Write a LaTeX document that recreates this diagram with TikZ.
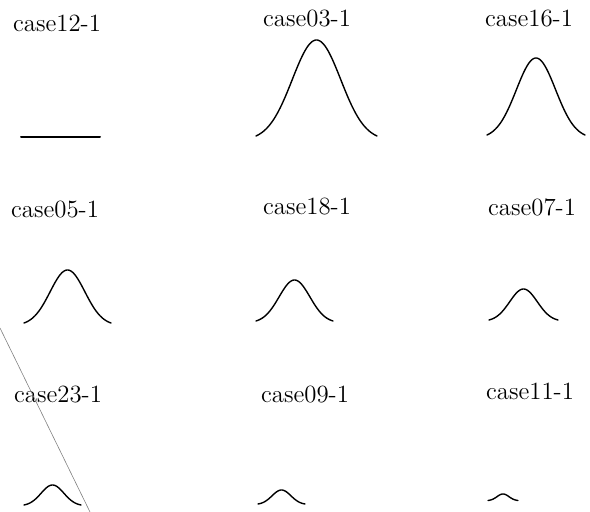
\documentclass[tikz,border=0pt]{standalone}
\begin{document}
\begin{tikzpicture}[x=0.5pt,y=-0.5pt,
  lbl/.style={font=\fontsize{12.4}{14}\selectfont, inner sep=0pt, anchor=center},
  curve/.style={line width=0.7pt, line cap=round, line join=round}]
\useasboundingbox (0,0) rectangle (590,512);
% gaussian: cx, base, halfwidth, height
\newcommand{\mygauss}[4]{%
  \draw[curve] plot[domain=-2.5:2.5, samples=80, smooth]
    ({#1 + \x*#3/2.5}, {#2 - #4*(exp(-\x*\x/2)-0.0439)/(1-0.0439)});}
% labels
\node[lbl] (l1) at (57,23)  {case12-1};
\node[lbl] (l2) at (307,19) {case03-1};
\node[lbl] (l3) at (529,19) {case16-1};
\node[lbl] (l4) at (55,210) {case05-1};
\node[lbl] (l5) at (307,207) {case18-1};
\node[lbl] (l6) at (532,207) {case07-1};
\node[lbl] (l7) at (58,395) {case23-1};
\node[lbl] (l8) at (305,395) {case09-1};
\node[lbl] (l9) at (530,391) {case11-1};
% curves
\draw[curve, line width=1pt] (21,137) -- (100,137);
\mygauss{316.5}{136}{60.5}{96}
\mygauss{536}{135}{49}{77}
\mygauss{67.5}{323}{43.5}{53}
\mygauss{294.5}{321}{38.5}{41}
\mygauss{523.5}{320}{34.5}{31}
\mygauss{52.5}{505}{28.5}{20}
\mygauss{281.5}{504}{23.5}{14}
\mygauss{503}{500.5}{15}{6.5}
% scan line
\draw[gray, line width=0.3pt] (0,328) -- (90,512);
\end{tikzpicture}
\end{document}
